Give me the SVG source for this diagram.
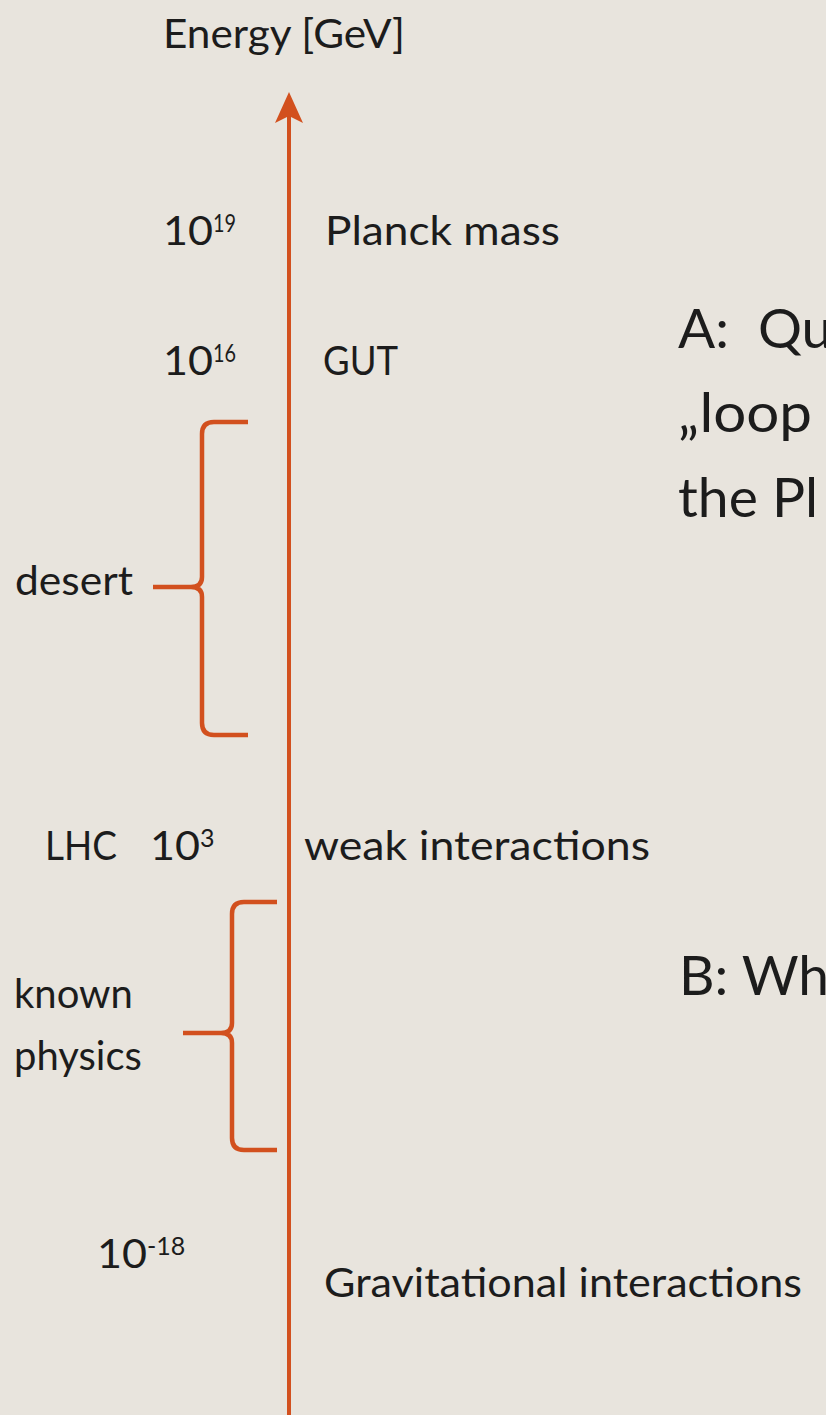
<svg xmlns="http://www.w3.org/2000/svg" width="826" height="1415" viewBox="0 0 826 1415">
<style>
.t{font-family:Lato,"Open Sans","Liberation Sans",sans-serif;font-size:40px;fill:#1c1c1c}
.sup{font-family:Lato,"Open Sans","Liberation Sans",sans-serif;font-size:25px;fill:#1c1c1c}
.big{font-family:Lato,"Open Sans","Liberation Sans",sans-serif;font-size:55px;fill:#1c1c1c}
.br{fill:none;stroke:#D2501E;stroke-width:4.5;stroke-linecap:butt;stroke-linejoin:round}
</style>
<rect x="0" y="0" width="826" height="1415" fill="#E8E4DD"/>
<g id="connectors">
<line x1="289" y1="112" x2="289" y2="1415" stroke="#D2501E" stroke-width="4"/>
<polygon points="289,92 275,123 289,116 303,123" fill="#D2501E"/>
</g>
<g id="axis-label"><text class="t" x="163" y="48" textLength="242" lengthAdjust="spacingAndGlyphs">Energy [GeV]</text></g>
<g id="planck">
<text class="t" x="163" y="245" textLength="50" lengthAdjust="spacingAndGlyphs">10</text>
<text class="sup" x="213" y="232" textLength="23" lengthAdjust="spacingAndGlyphs">19</text>
<text class="t" x="325" y="245" textLength="235" lengthAdjust="spacingAndGlyphs">Planck  mass</text>
</g>
<g id="gut">
<text class="t" x="163" y="375" textLength="50" lengthAdjust="spacingAndGlyphs">10</text>
<text class="sup" x="213" y="362" textLength="23" lengthAdjust="spacingAndGlyphs">16</text>
<text class="t" x="323" y="375" textLength="75" lengthAdjust="spacingAndGlyphs">GUT</text>
</g>
<g id="question-a">
<text class="big" x="678" y="348">A:<tspan x="758">Qu</tspan></text>
<text class="big" x="678" y="432" textLength="134" lengthAdjust="spacingAndGlyphs">„loop</text>
<text class="big" x="678" y="517" textLength="140" lengthAdjust="spacingAndGlyphs">the Pl</text>
</g>
<g id="desert">
<path class="br" d="M248,422 L214,422 Q202,422 202,434 L202,577 Q202,587 191,587 L153,587 M191,587 Q202,587 202,597 L202,723 Q202,735 214,735 L248,735"/>
<text class="t" x="15" y="595" textLength="118" lengthAdjust="spacingAndGlyphs">desert</text>
</g>
<g id="lhc">
<text class="t" x="45" y="860" textLength="72" lengthAdjust="spacingAndGlyphs">LHC</text>
<text class="t" x="150" y="860" textLength="50" lengthAdjust="spacingAndGlyphs">10</text>
<text class="sup" x="200" y="847">3</text>
<text class="t" x="304" y="860" textLength="346" lengthAdjust="spacingAndGlyphs">weak interactions</text>
</g>
<g id="known-physics">
<path class="br" d="M277,902 L244,902 Q232,902 232,914 L232,1023 Q232,1033 221,1033 L183,1033 M221,1033 Q232,1033 232,1043 L232,1138 Q232,1150 244,1150 L277,1150"/>
<text class="t" x="14" y="1008">known</text>
<text class="t" x="14" y="1070">physics</text>
</g>
<g id="question-b">
<text class="big" x="679" y="995">B: Wh</text>
</g>
<g id="gravity">
<text class="t" x="97" y="1268" textLength="50" lengthAdjust="spacingAndGlyphs">10</text>
<text class="sup" x="147" y="1255">-18</text>
<text class="t" x="324" y="1297" textLength="478" lengthAdjust="spacingAndGlyphs">Gravitational interactions</text>
</g>
</svg>
